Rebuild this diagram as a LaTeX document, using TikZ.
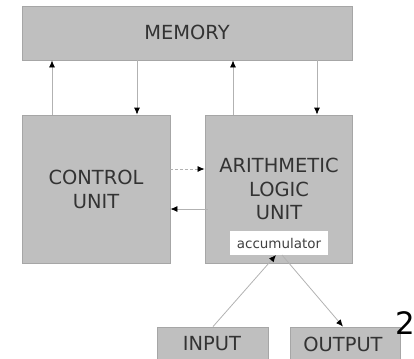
\documentclass[tikz,border=0pt]{standalone}
\usepackage{fontspec}
\setmainfont{DejaVu Sans}
\usetikzlibrary{arrows.meta}
\begin{document}
\begin{tikzpicture}[x=1bp,y=-1bp,
  blk/.style={draw=gray!70,fill=gray!50,line width=0.8bp,text=black!80,font=\fontsize{19.5}{24}\selectfont,align=center,inner sep=0pt},
  lbl/.style={draw=none,fill=none,text=black!80,font=\fontsize{19.5}{24}\selectfont,align=center,inner sep=0pt},
  acc/.style={fill=white,draw=none,text=black!75,font=\fontsize{13.5}{16}\selectfont,inner sep=0pt},
  conn/.style={draw=gray!60,line width=0.8bp,-{Latex[length=7bp,width=6bp,color=black]}},
  dconn/.style={conn,dash pattern=on 3bp off 2bp}]
\useasboundingbox (0,0) rectangle (414,359);
\node[blk,minimum width=330bp,minimum height=54bp] (mem) at (187,33) {};
\node[lbl] (memt) at (187,32) {MEMORY};
\node[blk,minimum width=148bp,minimum height=148bp] (cu) at (96,189) {};
\node[lbl] (cut) at (96,189) {CONTROL\\UNIT};
\node[blk,minimum width=147bp,minimum height=148bp] (alu) at (278.5,189) {};
\node[lbl] (alut) at (279,189) {ARITHMETIC\\LOGIC\\UNIT};
\node[acc,minimum width=98bp,minimum height=24bp] (acc) at (279,243) {accumulator};
\node[blk,minimum width=111bp,minimum height=40bp] (in) at (212.5,347) {};
\node[lbl] (int) at (212,344) {INPUT};
\node[blk,minimum width=110bp,minimum height=40bp] (out) at (345,347) {};
\node[lbl] (outt) at (343,344) {OUTPUT};
\node[font=\fontsize{31}{31}\selectfont,inner sep=0pt] (two) at (405,323) {2};
% memory connections
\draw[conn] (cu.north -| 52,0) -- (mem.south -| 52,0);
\draw[conn] (mem.south -| 137,0) -- (cu.north -| 137,0);
\draw[conn] (alu.north -| 233,0) -- (mem.south -| 233,0);
\draw[conn] (mem.south -| 317,0) -- (alu.north -| 317,0);
% CU <-> ALU
\draw[dconn] (cu.east |- 0,169) -- (alu.west |- 0,169);
\draw[conn] (alu.west |- 0,209) ++(3,0) -- (cu.east |- 0,209);
% IO
\coordinate (ain) at (276,255);
\coordinate (aout) at (282,255);
\draw[conn] (in.north -| 213,0) -- (ain);
\draw[conn] (aout) -- (out.north -| 343,0);
\end{tikzpicture}
\end{document}
